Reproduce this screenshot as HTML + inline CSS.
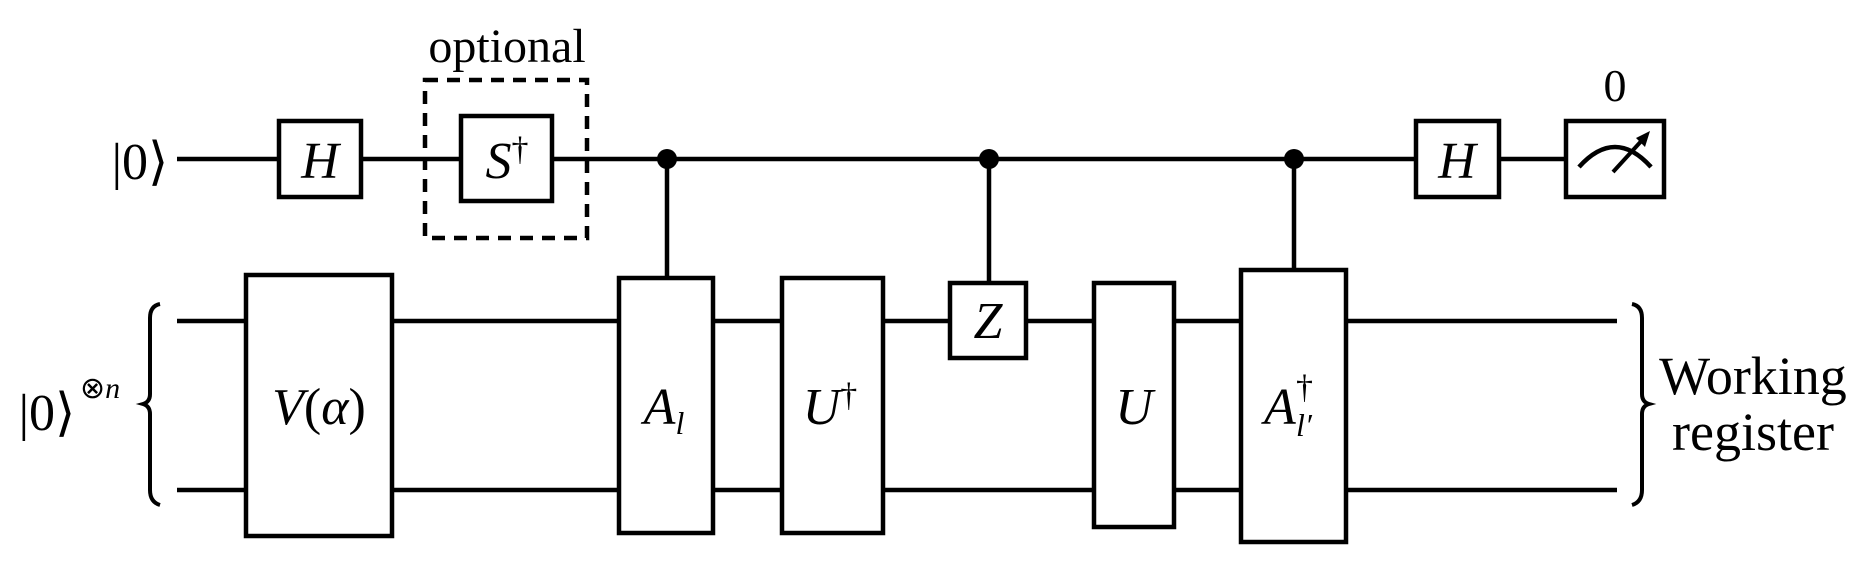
<!DOCTYPE html>
<html><head><meta charset="utf-8"><style>
html,body{margin:0;padding:0;background:#fff;}
svg{display:block;}
text{font-family:"Liberation Serif",serif;fill:#000;}
.m{font-style:italic;}
</style></head><body>
<svg width="1870" height="568" viewBox="0 0 1870 568" xmlns="http://www.w3.org/2000/svg">
<g stroke="#000" stroke-width="4.5" fill="none">
<line x1="177" y1="159" x2="1566" y2="159"/>
<line x1="177" y1="321" x2="1617" y2="321"/>
<line x1="177" y1="490" x2="1617" y2="490"/>
<line x1="667" y1="159" x2="667" y2="278"/>
<line x1="989" y1="159" x2="989" y2="283"/>
<line x1="1294" y1="159" x2="1294" y2="270"/>
<rect x="425" y="80" width="162" height="158" stroke-dasharray="13,9"/>
</g>
<g stroke="#000" stroke-width="4.5" fill="#fff">
<rect x="279" y="121" width="82" height="76"/>
<rect x="461" y="116" width="91" height="85"/>
<rect x="246" y="275" width="146" height="261"/>
<rect x="619" y="278" width="94" height="255"/>
<rect x="782" y="278" width="101" height="255"/>
<rect x="950" y="283" width="76" height="75"/>
<rect x="1094" y="283" width="80" height="244"/>
<rect x="1241" y="270" width="105" height="272"/>
<rect x="1416" y="121" width="83" height="76"/>
<rect x="1566" y="121" width="98" height="76"/>
</g>
<g fill="#000">
<ellipse cx="667" cy="159" rx="10" ry="10"/>
<ellipse cx="989" cy="159" rx="10" ry="10"/>
<ellipse cx="1294" cy="159" rx="10" ry="10"/>
</g>
<path d="M1579 167 Q1615 127 1651 167" stroke="#000" stroke-width="4.5" fill="none"/>
<line x1="1613" y1="172" x2="1645" y2="137" stroke="#000" stroke-width="4"/>
<path d="M1650 131 L1636 138 L1645 147 Z" fill="#000"/>
<path d="M160 304 Q150 306 150 318 L150 394 Q150 402 143 404 Q150 406 150 414 L150 490 Q150 502 160 505" stroke="#000" stroke-width="4" fill="none"/>
<path d="M1632 304 Q1642 306 1642 318 L1642 394 Q1642 402 1649 404 Q1642 406 1642 414 L1642 490 Q1642 502 1632 505" stroke="#000" stroke-width="4" fill="none"/>
<text x="507" y="62" font-size="48" text-anchor="middle">optional</text>
<text x="140" y="179" font-size="52" text-anchor="middle">|0⟩</text>
<text x="47" y="430" font-size="52" text-anchor="middle">|0⟩</text>
<text x="80" y="398" font-size="30">⊗<tspan class="m">n</tspan></text>
<text x="320" y="178" font-size="52" class="m" text-anchor="middle">H</text>
<text x="507" y="178" font-size="52" text-anchor="middle"><tspan class="m">S</tspan><tspan font-size="34" dy="-18">†</tspan></text>
<text x="319" y="424" font-size="52" text-anchor="middle"><tspan class="m">V</tspan>(<tspan class="m">α</tspan>)</text>
<text x="664" y="424" font-size="52" text-anchor="middle"><tspan class="m">A</tspan><tspan class="m" font-size="32" dy="10">l</tspan></text>
<text x="830" y="424" font-size="52" text-anchor="middle"><tspan class="m">U</tspan><tspan font-size="34" dy="-18">†</tspan></text>
<text x="988" y="338" font-size="52" class="m" text-anchor="middle">Z</text>
<text x="1134" y="424" font-size="52" class="m" text-anchor="middle">U</text>
<text x="1264" y="424" font-size="52" class="m">A</text>
<text x="1296" y="398" font-size="34">†</text>
<text x="1296" y="436" font-size="32" class="m">l′</text>
<text x="1457" y="178" font-size="52" class="m" text-anchor="middle">H</text>
<text x="1615" y="101" font-size="46" text-anchor="middle">0</text>
<text x="1753" y="394" font-size="54" text-anchor="middle">Working</text>
<text x="1753" y="450" font-size="54" text-anchor="middle">register</text>
</svg>
</body></html>
